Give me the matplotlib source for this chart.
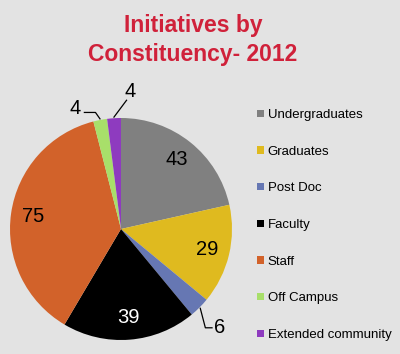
import numpy as np
import matplotlib
matplotlib.use('Agg')
import matplotlib.pyplot as plt
from matplotlib.patches import Patch

plt.rcParams['font.family'] = ['Liberation Sans', 'DejaVu Sans']

# data
groups = ['Undergraduates', 'Graduates', 'Post Doc', 'Faculty', 'Staff',
          'Off Campus', 'Extended community']
counts = [43, 29, 6, 39, 75, 4, 4]
colors = ['#808080', '#dfba1f', '#6677b3', '#000000', '#d2622a',
          '#a8df6a', '#8e3bbf']
bg = '#e3e3e3'

W, H = 400, 354
fig = plt.figure(figsize=(W / 100, H / 100), dpi=100, facecolor=bg)

# pie axes: centre ~ (121, 229) px, radius ~111 px
cx, cy, r = 121, 229, 111
ax = fig.add_axes([(cx - r) / W, (H - cy - r) / H, 2 * r / W, 2 * r / H])
ax.set_facecolor(bg)
wedges, _ = ax.pie(counts, colors=colors, startangle=90, counterclock=False,
                   radius=1, wedgeprops=dict(linewidth=0))
ax.set_xlim(-1, 1)
ax.set_ylim(-1, 1)
ax.set_aspect('equal')
ax.axis('off')

# labels inside big slices
for w, v in zip(wedges, counts):
    if v < 10:
        continue
    ang = np.deg2rad((w.theta1 + w.theta2) / 2)
    d = 0.8
    ax.text(d * np.cos(ang), d * np.sin(ang), str(v), ha='center', va='center',
            fontsize=14.5, color='white' if v == 39 else 'black')

# small slices with leader lines
def small_label(i, pts, txt_xy, ha):
    w = wedges[i]
    ang = np.deg2rad((w.theta1 + w.theta2) / 2)
    xs = [np.cos(ang) * 1.01] + [p[0] for p in pts]
    ys = [np.sin(ang) * 1.01] + [p[1] for p in pts]
    ax.plot(xs, ys, color='black', lw=0.9, clip_on=False)
    ax.text(txt_xy[0], txt_xy[1], str(counts[i]), ha=ha, va='center',
            fontsize=14.5, clip_on=False)

small_label(2, [(0.76, -0.89), (0.82, -0.89)], (0.84, -0.89), 'left')
small_label(5, [(-0.23, 1.05), (-0.33, 1.05)], (-0.41, 1.09), 'center')
small_label(6, [(0.05, 1.16)], (0.08, 1.24), 'center')

# title
fig.text(193 / W, 1 - 40 / H, 'Initiatives by\nConstituency- 2012', ha='center',
         va='center', fontsize=16.5, fontweight='bold', color='#d0213a',
         linespacing=1.3)

# legend
handles = [Patch(facecolor=c, edgecolor='none') for c in colors]
fig.legend(handles, groups, loc='upper left', bbox_to_anchor=(257 / W, 1 - 109 / H),
           frameon=False, fontsize=9.5, handlelength=0.5, handleheight=0.5,
           handletextpad=0.3, labelspacing=1.87, borderpad=0, borderaxespad=0)

fig.savefig('out.png', dpi=100, facecolor=bg)
